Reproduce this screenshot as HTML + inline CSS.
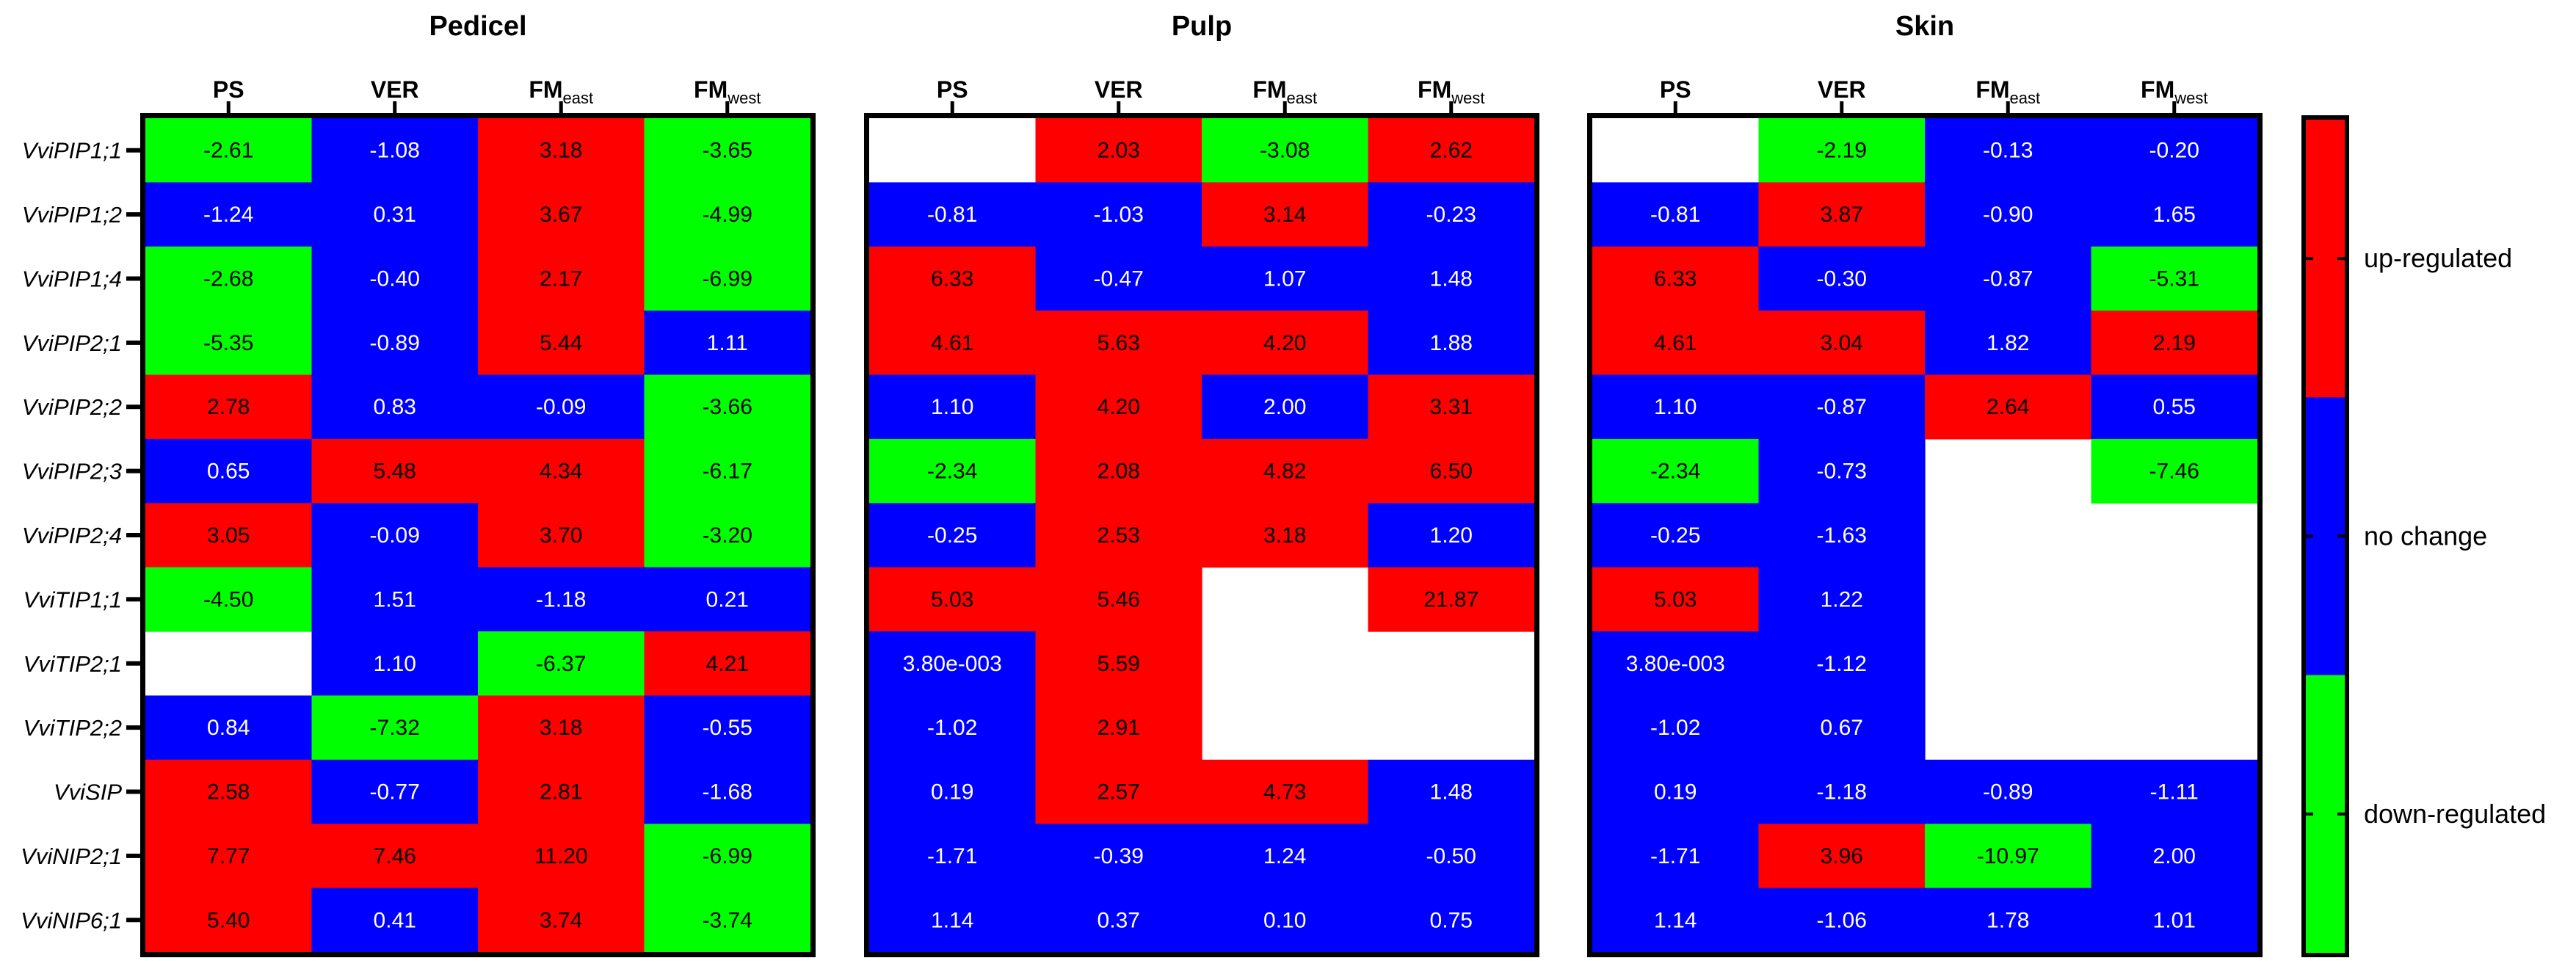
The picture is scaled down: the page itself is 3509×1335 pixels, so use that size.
<!DOCTYPE html>
<html><head><meta charset="utf-8"><style>
html,body{margin:0;padding:0;background:#fff;}
svg{display:block;font-family:"Liberation Sans",sans-serif;}
</style></head><body>
<svg id="chart" width="3509" height="1335" viewBox="0 0 3509 1335" xmlns="http://www.w3.org/2000/svg"></svg>
<script>
const genes = ["VviPIP1;1","VviPIP1;2","VviPIP1;4","VviPIP2;1","VviPIP2;2","VviPIP2;3","VviPIP2;4","VviTIP1;1","VviTIP2;1","VviTIP2;2","VviSIP","VviNIP2;1","VviNIP6;1"];
const stages = ["PS","VER","FM|east","FM|west"];
const panelTitles = ["Pedicel","Pulp","Skin"];
const pedicelValues = [
[-2.61,-1.08,3.18,-3.65],[-1.24,0.31,3.67,-4.99],[-2.68,-0.40,2.17,-6.99],[-5.35,-0.89,5.44,1.11],
[2.78,0.83,-0.09,-3.66],[0.65,5.48,4.34,-6.17],[3.05,-0.09,3.70,-3.20],[-4.50,1.51,-1.18,0.21],
[null,1.10,-6.37,4.21],[0.84,-7.32,3.18,-0.55],[2.58,-0.77,2.81,-1.68],[7.77,7.46,11.20,-6.99],[5.40,0.41,3.74,-3.74]];
const pulpValues = [
[null,2.03,-3.08,2.62],[-0.81,-1.03,3.14,-0.23],[6.33,-0.47,1.07,1.48],[4.61,5.63,4.20,1.88],
[1.10,4.20,2.00,3.31],[-2.34,2.08,4.82,6.50],[-0.25,2.53,3.18,1.20],[5.03,5.46,null,21.87],
[0.0038,5.59,null,null],[-1.02,2.91,null,null],[0.19,2.57,4.73,1.48],[-1.71,-0.39,1.24,-0.50],[1.14,0.37,0.10,0.75]];
const skinValues = [
[null,-2.19,-0.13,-0.20],[-0.81,3.87,-0.90,1.65],[6.33,-0.30,-0.87,-5.31],[4.61,3.04,1.82,2.19],
[1.10,-0.87,2.64,0.55],[-2.34,-0.73,null,-7.46],[-0.25,-1.63,null,null],[5.03,1.22,null,null],
[0.0038,-1.12,null,null],[-1.02,0.67,null,null],[0.19,-1.18,-0.89,-1.11],[-1.71,3.96,-10.97,2.00],[1.14,-1.06,1.78,1.01]];
const legendLabels = ["up-regulated","no change","down-regulated"];

const NS="http://www.w3.org/2000/svg";
const svg=document.getElementById('chart');
function mk(tag,attrs,parent){const e=document.createElementNS(NS,tag);for(const k in attrs)e.setAttribute(k,attrs[k]);(parent||svg).appendChild(e);return e;}

const panelLeft=[191,1177,2162];
const boxW=920, boxTop=154, boxBot=1304, bw=7;
const innerTop=boxTop+bw, innerBot=boxBot-bw;
const rowH=(innerBot-innerTop)/genes.length;
function yRow(i){return innerTop+i*rowH;}
function colorFor(v){ if(v===null) return null; if(v>2) return "#ff0000"; if(v<-2) return "#00ff00"; return "#0000ff"; }
function fmt(v){ if(v!==0 && Math.abs(v)<0.01){ const e=Math.floor(Math.log10(Math.abs(v))); const m=(v/Math.pow(10,e)).toFixed(2); return m+"e"+(e<0?"-":"+")+String(Math.abs(e)).padStart(3,"0"); } return v.toFixed(2); }

const allValues=[pedicelValues,pulpValues,skinValues];
allValues.forEach((vals,p)=>{
  const L=panelLeft[p], iL=L+bw, colW=(boxW-2*bw)/stages.length;
  const g=mk('g',{});
  
  
  const t=mk('text',{x:L+boxW/2,y:48,'text-anchor':'middle','font-size':38,'font-weight':'bold',fill:'#000'},g);
  t.textContent=panelTitles[p];
  
  
  for(let r=0;r<genes.length;r++){
    for(let c=0;c<stages.length;c++){
      const v=vals[r][c]; const col=colorFor(v); if(!col) continue;
      const rect=mk('rect',{x:iL+c*colW,y:yRow(r),width:colW+0.6,height:rowH+0.6,fill:col},g);
      
      
      const tx=mk('text',{x:iL+(c+0.5)*colW,y:yRow(r)+rowH/2+10,'text-anchor':'middle','font-size':30,fill:col==="#0000ff"?"#fff":"#000"},g);
      tx.textContent=fmt(v);
      
      
    }
  }
  const frame=mk('rect',{x:L+bw/2,y:boxTop+bw/2,width:boxW-bw,height:boxBot-boxTop-bw,fill:'none',stroke:'#000','stroke-width':bw},g);
  
  
  stages.forEach((s,c)=>{
    const cx=iL+(c+0.5)*colW;
    mk('line',{x1:cx,y1:138,x2:cx,y2:boxTop,stroke:'#000','stroke-width':5},g);
    const parts=s.split('|');
    const h=mk('text',{x:cx,y:133,'text-anchor':'middle','font-size':32,'font-weight':'bold',fill:'#000'},g);
    
    
    const m=document.createElementNS(NS,'tspan'); m.textContent=parts[0]; h.appendChild(m);
    if(parts[1]){const sb=document.createElementNS(NS,'tspan'); sb.setAttribute('font-size','22'); sb.setAttribute('font-weight','normal'); sb.setAttribute('dy','8'); sb.textContent=parts[1]; h.appendChild(sb);}
  });
});

// row labels (left of pedicel)
genes.forEach((gname,r)=>{
  const cy=yRow(r)+rowH/2;
  const tk=mk('line',{x1:172,y1:cy,x2:191,y2:cy,stroke:'#000','stroke-width':6});
  
  
  const lt=mk('text',{x:166,y:cy+11,'text-anchor':'end','font-size':31,'font-style':'italic',fill:'#000'});
  lt.textContent=gname;
  
  
});

// legend
const legL=3135, legR=3200, legT=157, legB=1304, lbw=6;
const legColors=["#ff0000","#0000ff","#00ff00"];
const segH=(legB-legT-2*lbw)/3;
legendLabels.forEach((lab,i)=>{
  const y0=legT+lbw+i*segH;
  const sr=mk('rect',{x:legL+lbw,y:y0,width:legR-legL-2*lbw,height:segH+0.5,fill:legColors[i]});
  
  
  const cy=y0+segH/2;
  mk('line',{x1:legL+lbw,y1:cy,x2:legL+lbw+10,y2:cy,stroke:'#000','stroke-width':4});
  mk('line',{x1:legR-lbw-10,y1:cy,x2:legR-lbw,y2:cy,stroke:'#000','stroke-width':4});
  const lt=mk('text',{x:3220,y:cy+12,'font-size':36,fill:'#000'});
  lt.textContent=lab;
  
  
});
const lf=mk('rect',{x:legL+lbw/2,y:legT+lbw/2,width:legR-legL-lbw,height:legB-legT-lbw,fill:'none',stroke:'#000','stroke-width':lbw});


</script>
</body></html>
